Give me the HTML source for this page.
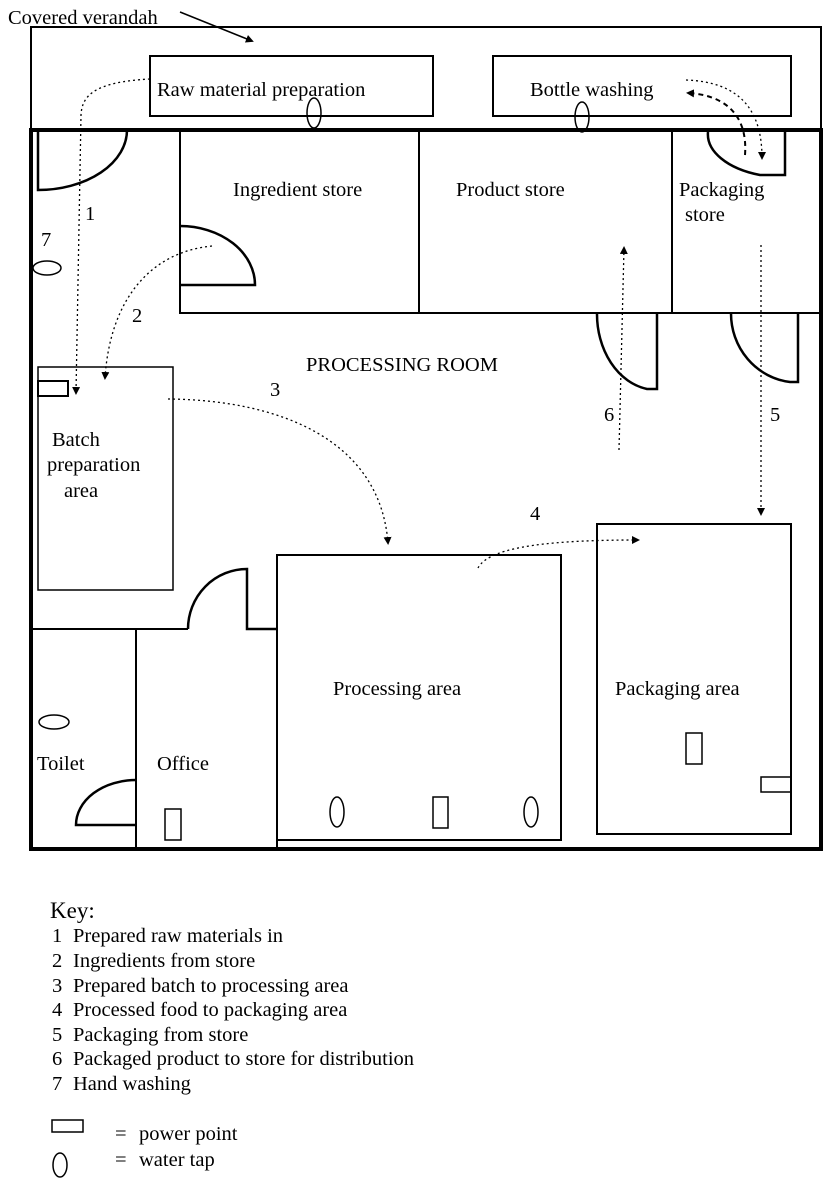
<!DOCTYPE html>
<html><head><style>
html,body{margin:0;padding:0;background:#fff;}
svg text{font-family:"Liberation Serif",serif;font-size:20.5px;fill:#000;}
</style></head><body>
<svg width="831" height="1194" viewBox="0 0 831 1194" xmlns="http://www.w3.org/2000/svg">
<defs>
<marker id="ah" markerWidth="8" markerHeight="8" refX="6" refY="4" orient="auto" markerUnits="userSpaceOnUse"><path d="M0,0 L8,4 L0,8 z" fill="#000"/></marker>
</defs>
<g fill="none" stroke="#000">
<rect x="31" y="27" width="790" height="103" stroke-width="2"/>
<rect x="150" y="56" width="283" height="60" stroke-width="2"/>
<rect x="493" y="56" width="298" height="60" stroke-width="2"/>
<rect x="31" y="130" width="790" height="719" stroke-width="4"/>
<rect x="180" y="131" width="239" height="182" stroke-width="2"/>
<line x1="419" y1="313" x2="821" y2="313" stroke-width="2"/>
<line x1="672" y1="131" x2="672" y2="313" stroke-width="2"/>
<path d="M38,130 L38,190 A89,60 0 0 0 127,130" stroke-width="2.5"/>
<path d="M180,226 A75,59 0 0 1 255,285 L180,285" stroke-width="2.5"/>
<path d="M785,132 L785,175 L760,175 A77,43 0 0 1 708,132" stroke-width="2.5"/>
<path d="M657,313 L657,389 L647,389 A60,76 0 0 1 597,313" stroke-width="2.5"/>
<path d="M798,313 L798,382 L790,382 A67,69 0 0 1 731,313" stroke-width="2.5"/>
<rect x="38" y="367" width="135" height="223" stroke-width="1.5"/>
<rect x="38" y="381" width="30" height="15" stroke-width="2"/>
<line x1="31" y1="629" x2="188" y2="629" stroke-width="2"/>
<path d="M188,629 A59,60 0 0 1 247,569 L247,629 L277,629" stroke-width="2.5"/>
<line x1="136" y1="629" x2="136" y2="849" stroke-width="2"/>
<path d="M136,825 L76,825 A60,45 0 0 1 136,780" stroke-width="2.5"/>
<path d="M277,849 L277,555 L561,555 L561,840 L277,840" stroke-width="2"/>
<rect x="597" y="524" width="194" height="310" stroke-width="2"/>
<ellipse cx="314" cy="113" rx="7" ry="15" stroke-width="1.5"/>
<ellipse cx="582" cy="117" rx="7" ry="15" stroke-width="1.5"/>
<ellipse cx="47" cy="268" rx="14" ry="7" stroke-width="1.5"/>
<ellipse cx="54" cy="722" rx="15" ry="7" stroke-width="1.5"/>
<rect x="165" y="809" width="16" height="31" stroke-width="1.5"/>
<ellipse cx="337" cy="812" rx="7" ry="15" stroke-width="1.5"/>
<rect x="433" y="797" width="15" height="31" stroke-width="1.5"/>
<ellipse cx="531" cy="812" rx="7" ry="15" stroke-width="1.5"/>
<rect x="686" y="733" width="16" height="31" stroke-width="1.5"/>
<rect x="761" y="777" width="30" height="15" stroke-width="1.5"/>
<line x1="180" y1="12" x2="252" y2="41" stroke-width="1.5" marker-end="url(#ah)"/>
<g stroke-width="1.3" stroke-dasharray="2,3">
<path d="M150,79 C95,82 82,95 81,115 L76,393" marker-end="url(#ah)"/>
<path d="M212,246 C150,252 110,300 105,378" marker-end="url(#ah)"/>
<path d="M168,399 C280,400 380,440 388,543" marker-end="url(#ah)"/>
<path d="M478,568 C490,545 560,540 638,540" marker-end="url(#ah)"/>
<path d="M761,245 L761,514" marker-end="url(#ah)"/>
<path d="M619,450 L624,248" marker-end="url(#ah)"/>
<path d="M686,80 C740,82 762,110 762,158" marker-end="url(#ah)"/>
</g>
<path d="M745,155 C748,115 725,95 688,93" stroke-width="2" stroke-dasharray="5,4" marker-end="url(#ah)"/>
<rect x="52" y="1120" width="31" height="12" stroke-width="1.5"/>
<ellipse cx="60" cy="1165" rx="7" ry="12" stroke-width="1.5"/>
</g>
<text x="8" y="24">Covered verandah</text>
<text x="157" y="96">Raw material preparation</text>
<text x="530" y="96">Bottle washing</text>
<text x="233" y="196">Ingredient store</text>
<text x="456" y="196">Product store</text>
<text x="679" y="196">Packaging</text>
<text x="685" y="221">store</text>
<text x="306" y="371">PROCESSING ROOM</text>
<text x="52" y="446">Batch</text>
<text x="47" y="471">preparation</text>
<text x="64" y="497">area</text>
<text x="333" y="695">Processing area</text>
<text x="615" y="695">Packaging area</text>
<text x="37" y="770">Toilet</text>
<text x="157" y="770">Office</text>
<text x="85" y="220">1</text>
<text x="41" y="246">7</text>
<text x="132" y="322">2</text>
<text x="270" y="396">3</text>
<text x="604" y="421">6</text>
<text x="770" y="421">5</text>
<text x="530" y="520">4</text>
<text x="50" y="918" style="font-size:23px">Key:</text>
<text x="52" y="942">1</text><text x="73" y="942">Prepared raw materials in</text>
<text x="52" y="967">2</text><text x="73" y="967">Ingredients from store</text>
<text x="52" y="992">3</text><text x="73" y="992">Prepared batch to processing area</text>
<text x="52" y="1016">4</text><text x="73" y="1016">Processed food to packaging area</text>
<text x="52" y="1041">5</text><text x="73" y="1041">Packaging from store</text>
<text x="52" y="1065">6</text><text x="73" y="1065">Packaged product to store for distribution</text>
<text x="52" y="1090">7</text><text x="73" y="1090">Hand washing</text>
<text x="115" y="1140">=</text><text x="139" y="1140">power point</text>
<text x="115" y="1166">=</text><text x="139" y="1166">water tap</text>
</svg>
</body></html>
